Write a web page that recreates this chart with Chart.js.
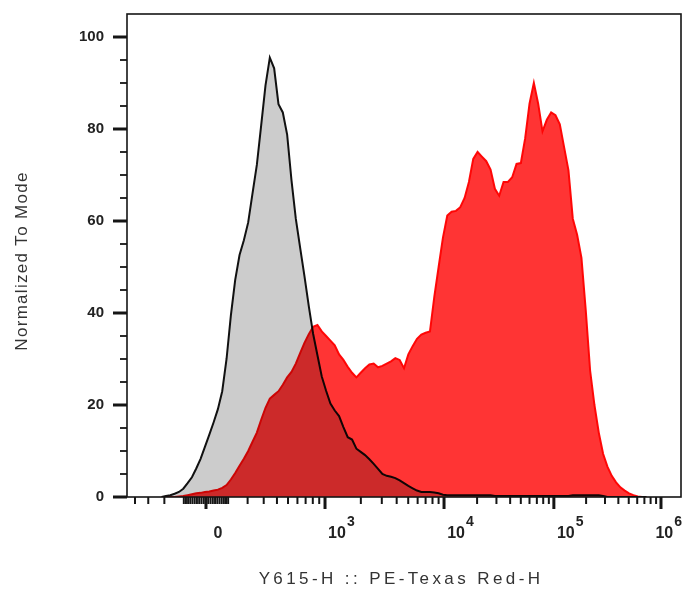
<!DOCTYPE html>
<html>
<head>
<meta charset="utf-8">
<script src="https://cdn.jsdelivr.net/npm/chart.js@4.4.1/dist/chart.umd.min.js"></script>
<style>
  html, body { margin: 0; padding: 0; background: #fff; }
  #wrap { width: 683px; height: 590px; }
</style>
</head>
<body>
<div id="wrap"><canvas id="histo" width="683" height="590"></canvas></div>
<script>
// histogram bins, in display channels (axis runs 0..1024)
const firstChannel = 64;
const binWidth = 8;

// Normalized To Mode - unstained control (grey)
const controlCounts = [
  0, 0.2, 0.4, 0.7, 1.1, 1.8, 3.0, 4.3, 6.2, 8.3,
  10.9, 13.5, 16.2, 19.1, 23, 30, 39.5, 47.2, 52.6, 55.8,
  59.7, 66, 72.2, 80.8, 89.5, 95.5, 93.2, 85.4, 83.6, 78.8,
  68.9, 60.5, 54.2, 48, 41.5, 35.5, 30.8, 26.2, 23.1, 20.3,
  18.8, 17.6, 15.2, 13, 12.5, 10.5, 9.8, 9.1, 8.2, 7.2,
  6.1, 5, 4.6, 4.4, 4.1, 3.6, 3, 2.4, 1.9, 1.4,
  1.1, 1.1, 1.1, 1.0, 0.8, 0.5, 0.4, 0.4, 0.4, 0.4,
  0.4, 0.4, 0.4, 0.4, 0.4, 0.4, 0.4, 0.2, 0.2, 0.2,
  0.2, 0.2, 0.2, 0.2, 0.2, 0.2, 0.2, 0.2, 0.2, 0.2,
  0.2, 0.2, 0.2, 0.2, 0.2, 0.4, 0.4, 0.4, 0.4, 0.4,
  0.4, 0.4, 0.2, 0, 0, 0, 0, 0, 0, 0,
  0, 0, 0
];

// Normalized To Mode - PE-Texas Red stained (red)
const stainedCounts = [
  0, 0, 0, 0, 0.1, 0.2, 0.4, 0.6, 0.8, 0.9,
  1.1, 1.2, 1.4, 1.6, 2.0, 2.6, 3.8, 5.2, 6.8, 8.3,
  10, 12, 14, 16.8, 19.4, 21.4, 22.2, 23, 24.4, 26,
  27.2, 29, 31.3, 33.5, 35.4, 37, 37.4, 36, 35, 34,
  33, 31, 29.8, 28.3, 27, 26, 27, 28, 28.8, 29,
  28.2, 28.5, 29, 29.5, 30.2, 29.8, 28, 31, 32.8, 34.4,
  35.3, 35.7, 36, 43.5, 50, 56.4, 61.2, 62, 62.2, 63,
  65, 68.5, 73.5, 75, 74, 73, 71.2, 67, 65.5, 68.5,
  68.5, 69.5, 72.4, 72.6, 78, 85.5, 90, 85.5, 79.5, 82,
  83.6, 83, 81, 76, 71, 60.5, 57, 52, 40.5, 27.5,
  20, 14, 9.4, 6.6, 4.6, 3.2, 2.1, 1.4, 0.8, 0.4,
  0.1, 0, 0
];

// x axis: biex display (asinh near zero, log from 10^3 up)
const xMajorValues = [0, 1e3, 1e4, 1e5, 1e6];
const xMajorBase = ['0', '10', '10', '10', '10'];
const xMajorExp = ['', '3', '4', '5', '6'];
const xMinorValues = [
  -400, -300, -200, -100, -90, -80, -70, -60, -50, -40, -30, -20, -10,
  10, 20, 30, 40, 50, 60, 70, 80, 90, 100,
  200, 300, 400, 500, 600, 700, 800, 900,
  2e3, 3e3, 4e3, 5e3, 6e3, 7e3, 8e3, 9e3,
  2e4, 3e4, 4e4, 5e4, 6e4, 7e4, 8e4, 9e4,
  2e5, 3e5, 4e5, 5e5, 6e5, 7e5, 8e5, 9e5
];
const zeroChannel = 146;
const linWidth = 250;
const decadeChannels = [220, 220, 203, 198]; // 0-1e3, 1e3-1e4, 1e4-1e5, 1e5-1e6

// y axis
const yMajorValues = [0, 20, 40, 60, 80, 100];
const yMinorValues = [5, 10, 15, 25, 30, 35, 45, 50, 55, 65, 70, 75, 85, 90, 95];

const xTitle = 'Y615-H :: PE-Texas Red-H';
const yTitle = 'Normalized To Mode';

function toChannel(v) {
  const a = Math.abs(v);
  let r;
  if (a <= 1000) {
    r = decadeChannels[0] * Math.asinh(a / linWidth) / Math.asinh(1000 / linWidth);
  } else {
    const lg = Math.log10(a) - 3;
    const d = Math.min(Math.floor(lg), 2);
    r = decadeChannels[0];
    for (let i = 0; i < d; i++) r += decadeChannels[i + 1];
    r += (lg - d) * decadeChannels[d + 1];
  }
  return zeroChannel + Math.sign(v) * r;
}

const controlPoints = controlCounts.map((y, i) => ({ x: firstChannel + i * binWidth, y }));
const stainedPoints = stainedCounts.map((y, i) => ({ x: firstChannel + i * binWidth, y }));

const xTicks = xMajorValues.map((v, i) => ({ value: toChannel(v), isMajor: true, base: xMajorBase[i], exp: xMajorExp[i] }))
  .concat(xMinorValues.map(v => ({ value: toChannel(v), isMajor: false })))
  .sort((a, b) => a.value - b.value);
const yTicks = yMajorValues.map(v => ({ value: v, isMajor: true, txt: String(v) }))
  .concat(yMinorValues.map(v => ({ value: v, isMajor: false, txt: '' })))
  .sort((a, b) => a.value - b.value);

const family = '"Liberation Sans", Arial, sans-serif';
const tickFont = { family, size: 15, weight: 'bold' };

// white paper, otherwise multiply has nothing to work on
const paper = {
  id: 'paper',
  beforeDraw(chart) {
    const ctx = chart.ctx;
    ctx.save();
    ctx.fillStyle = '#fff';
    ctx.fillRect(0, 0, chart.width, chart.height);
    ctx.restore();
  }
};

// red goes over the grey in multiply mode -> dark red overlap like FlowJo
const overlay = {
  id: 'overlay',
  afterDatasetDraw(chart, args) {
    chart.ctx.globalCompositeOperation = args.index === 0 ? 'multiply' : 'source-over';
  }
};

// tick marks (long/thick for major, short for minor), frame, 10^n labels, axis titles
const axisDecor = {
  id: 'axisDecor',
  afterDraw(chart) {
    const { ctx, chartArea: a, scales: { x, y } } = chart;
    ctx.save();
    ctx.globalCompositeOperation = 'source-over';
    ctx.strokeStyle = '#151515';
    x.ticks.forEach(t => {
      const px = x.getPixelForValue(t.value);
      ctx.lineWidth = t.isMajor ? 3 : 2;
      ctx.beginPath();
      ctx.moveTo(px, a.bottom);
      ctx.lineTo(px, a.bottom + (t.isMajor ? 12 : 7));
      ctx.stroke();
    });
    y.ticks.forEach(t => {
      const py = y.getPixelForValue(t.value);
      ctx.lineWidth = t.isMajor ? 3 : 1.8;
      ctx.beginPath();
      ctx.moveTo(a.left, py);
      ctx.lineTo(a.left - (t.isMajor ? 14 : 7), py);
      ctx.stroke();
    });
    ctx.lineWidth = 1.6;
    ctx.strokeRect(a.left, a.top, a.right - a.left, a.bottom - a.top);

    // decade labels with a raised exponent
    const baseFont = 'bold 16px ' + family;
    const expFont = 'bold 14px ' + family;
    ctx.fillStyle = '#222';
    ctx.textAlign = 'left';
    ctx.textBaseline = 'middle';
    x.ticks.filter(t => t.isMajor).forEach(t => {
      const px = x.getPixelForValue(t.value);
      ctx.font = baseFont;
      const wb = ctx.measureText(t.base).width;
      ctx.font = expFont;
      const we = t.exp ? ctx.measureText(t.exp).width + 1 : 0;
      let left = px + 12 - wb / 2;
      if (left + wb + we > chart.width - 1) left = chart.width - 1 - wb - we;
      ctx.font = baseFont;
      ctx.fillText(t.base, left, 534);
      if (t.exp) {
        ctx.font = expFont;
        ctx.fillText(t.exp, left + wb + 1, 522);
      }
    });

    ctx.fillStyle = '#333';
    ctx.textAlign = 'center';
    ctx.font = '17px ' + family;
    ctx.letterSpacing = '3.4px';
    ctx.fillText(xTitle, (a.left + a.right) / 2 - 3, 579);
    ctx.letterSpacing = '1.3px';
    ctx.translate(22, 261);
    ctx.rotate(-Math.PI / 2);
    ctx.fillText(yTitle, 0, 0);
    ctx.restore();
  }
};

new Chart(document.getElementById('histo'), {
  type: 'line',
  data: {
    datasets: [
      {
        label: 'Control',
        data: controlPoints,
        order: 2,
        backgroundColor: '#cccccc',
        borderColor: '#111111',
        borderWidth: 2,
        fill: 'origin',
        pointRadius: 0,
        tension: 0
      },
      {
        label: 'PE-Texas Red',
        data: stainedPoints,
        order: 1,
        backgroundColor: '#ff3434',
        borderColor: '#ff0a0a',
        borderWidth: 2,
        fill: 'origin',
        pointRadius: 0,
        tension: 0
      }
    ]
  },
  options: {
    responsive: false,
    animation: false,
    layout: { padding: { top: 14, right: 2, left: 0, bottom: 0 } },
    plugins: { legend: { display: false }, tooltip: { enabled: false } },
    scales: {
      x: {
        type: 'linear',
        min: 0,
        max: 1024,
        afterBuildTicks: s => { s.ticks = xTicks.map(t => ({ ...t })); },
        afterFit: s => { s.height = 93; s.paddingLeft = 0; s.paddingRight = 0; },
        grid: { drawOnChartArea: false, drawTicks: true, tickLength: 13, color: 'rgba(0,0,0,0)' },
        border: { display: false },
        ticks: { display: false, autoSkip: false, maxRotation: 0, minRotation: 0 }
      },
      y: {
        type: 'linear',
        min: 0,
        max: 105,
        afterBuildTicks: s => { s.ticks = yTicks.map(t => ({ ...t })); },
        afterFit: s => { s.width = 127; s.paddingTop = 0; s.paddingBottom = 0; },
        grid: { drawOnChartArea: false, drawTicks: true, tickLength: 14, color: 'rgba(0,0,0,0)' },
        border: { display: false },
        ticks: {
          autoSkip: false,
          padding: 9,
          font: tickFont, color: '#222',
          callback: (v, i, ticks) => ticks[i].txt
        }
      }
    }
  },
  plugins: [paper, overlay, axisDecor]
});
</script>
</body>
</html>
